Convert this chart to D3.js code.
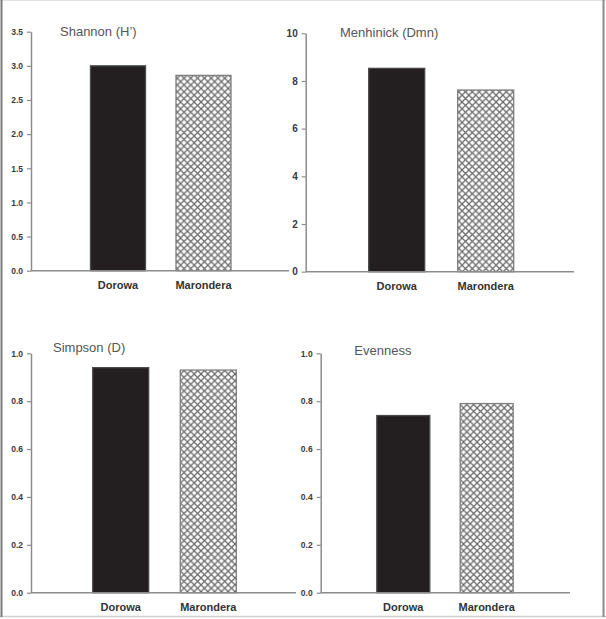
<!DOCTYPE html>
<html>
<head>
<meta charset="utf-8">
<script src="https://cdn.jsdelivr.net/npm/d3@7"></script>
<style>
  body { margin: 0; background: #fff; }
  svg { display: block; font-family: "Liberation Sans", Arial, sans-serif; }
</style>
</head>
<body>
<div id="chart"></div>
<script>
// data
const sites = ["Dorowa", "Marondera"];
const indexNames = ["Shannon (H\u2019)", "Menhinick (Dmn)", "Simpson (D)", "Evenness"];
const dorowaValues = [3.0, 8.53, 0.94, 0.74];
const maronderaValues = [2.86, 7.62, 0.93, 0.79];
const shannonTicks = [0, 0.5, 1.0, 1.5, 2.0, 2.5, 3.0, 3.5];
const menhinickTicks = [0, 2, 4, 6, 8, 10];
const simpsonTicks = [0, 0.2, 0.4, 0.6, 0.8, 1.0];
const evennessTicks = [0, 0.2, 0.4, 0.6, 0.8, 1.0];

const tickSets = [shannonTicks, menhinickTicks, simpsonTicks, evennessTicks];
const tickFormats = [".1f", "d", ".1f", ".1f"];

// panel layout (pixels)
const panels = [
    {left: 31, top: 31.7, bottom: 270.7, right: 289, c1: 87, step: 85.5, bw: 55, tx: 29, ty: 4.3, tickFont: 8.5},
    {left: 305.7, top: 33.3, bottom: 271.7, right: 574, c1: 91, step: 89, bw: 56, tx: 34.3, ty: 3.4, tickFont: 10},
    {left: 31, top: 353.3, bottom: 592.7, right: 296, c1: 89.7, step: 87.6, bw: 56, tx: 22, ty: -1.6, tickFont: 8.5},
    {left: 320.7, top: 353.3, bottom: 592.7, right: 570, c1: 82.6, step: 83.4, bw: 53, tx: 33.6, ty: 1.7, tickFont: 8.5}
];

const W = 606, H = 619;
const axisColor = "#8c8c8c";

const svg = d3.select("#chart").append("svg")
    .attr("width", W)
    .attr("height", H);

// crosshatch for Marondera
const defs = svg.append("defs");
const hs = 6.8;
const pat = defs.append("pattern")
    .attr("id", "hatch")
    .attr("patternUnits", "userSpaceOnUse")
    .attr("width", hs)
    .attr("height", hs);
pat.append("rect").attr("width", hs).attr("height", hs).attr("fill", "#fff");
pat.append("path")
    .attr("d", `M-1,-1 L${hs + 1},${hs + 1} M${hs + 1},-1 L-1,${hs + 1}`)
    .attr("stroke", "#6a6a6a")
    .attr("stroke-width", 1.25);

// outer frame
svg.append("line").attr("x1", 0).attr("x2", W).attr("y1", 0.5).attr("y2", 0.5)
    .attr("stroke", "#e2e2e2");
svg.append("line").attr("x1", 0).attr("x2", W).attr("y1", 616.5).attr("y2", 616.5)
    .attr("stroke", "#d0d0d0").attr("stroke-width", 1.5);
svg.append("line").attr("x1", 1.5).attr("x2", 1.5).attr("y1", 0).attr("y2", 617)
    .attr("stroke", "#7a7a7a").attr("stroke-width", 2);
svg.append("line").attr("x1", 603.5).attr("x2", 603.5).attr("y1", 0).attr("y2", 617)
    .attr("stroke", "#8a8a8a").attr("stroke-width", 2);

panels.forEach((p, i) => {
    const ticks = tickSets[i];
    const g = svg.append("g").attr("transform", `translate(${p.left},0)`);

    const y = d3.scaleLinear()
        .domain([0, d3.max(ticks)])
        .range([p.bottom, p.top]);

    const pi = 1 - p.bw / p.step;
    const x = d3.scaleBand()
        .domain(sites)
        .range([p.c1 - p.step / 2, p.c1 + p.step * 1.5])
        .paddingInner(pi)
        .paddingOuter(pi / 2);

    const vals = [dorowaValues[i], maronderaValues[i]];

    // bars
    g.selectAll(".bar")
        .data(sites.map((s, j) => ({site: s, value: vals[j]})))
        .enter()
        .append("rect")
        .attr("class", "bar")
        .attr("x", d => x(d.site))
        .attr("width", x.bandwidth())
        .attr("y", d => y(d.value))
        .attr("height", d => y(0) - y(d.value))
        .attr("fill", (d, j) => j === 0 ? "#231f20" : "url(#hatch)")
        .attr("stroke", (d, j) => j === 0 ? "#4a4a4a" : "#7e7e7e")
        .attr("stroke-width", 1.3);

    // x axis line
    g.append("line")
        .attr("x1", 0)
        .attr("x2", p.right - p.left)
        .attr("y1", y(0))
        .attr("y2", y(0))
        .attr("stroke", axisColor)
        .attr("stroke-width", 1.5);

    // y axis
    const yAxis = g.append("g")
        .call(d3.axisLeft(y)
            .tickValues(ticks)
            .tickFormat(d3.format(tickFormats[i]))
            .tickSize(4)
            .tickSizeOuter(0)
            .tickPadding(4));
    yAxis.select(".domain").attr("stroke", axisColor).attr("stroke-width", 1.5);
    yAxis.selectAll(".tick line").attr("stroke", axisColor).attr("stroke-width", 1.2);
    yAxis.selectAll(".tick text")
        .attr("fill", "#3a3a3a")
        .style("font-size", p.tickFont + "px")
        .style("font-weight", "bold")
        .style("font-family", "'Liberation Sans', Arial, sans-serif");

    // site labels
    g.selectAll(".site")
        .data(sites)
        .enter()
        .append("text")
        .attr("class", "site")
        .attr("x", d => x(d) + x.bandwidth() / 2)
        .attr("y", y(0) + 18.5)
        .attr("text-anchor", "middle")
        .attr("fill", "#333")
        .style("font-size", "11px")
        .style("font-weight", "bold")
        .text(d => d);

    // panel title
    g.append("text")
        .attr("x", p.tx)
        .attr("y", p.top + p.ty)
        .attr("fill", "#555")
        .style("font-size", "13px")
        .text(indexNames[i]);
});
</script>
</body>
</html>
